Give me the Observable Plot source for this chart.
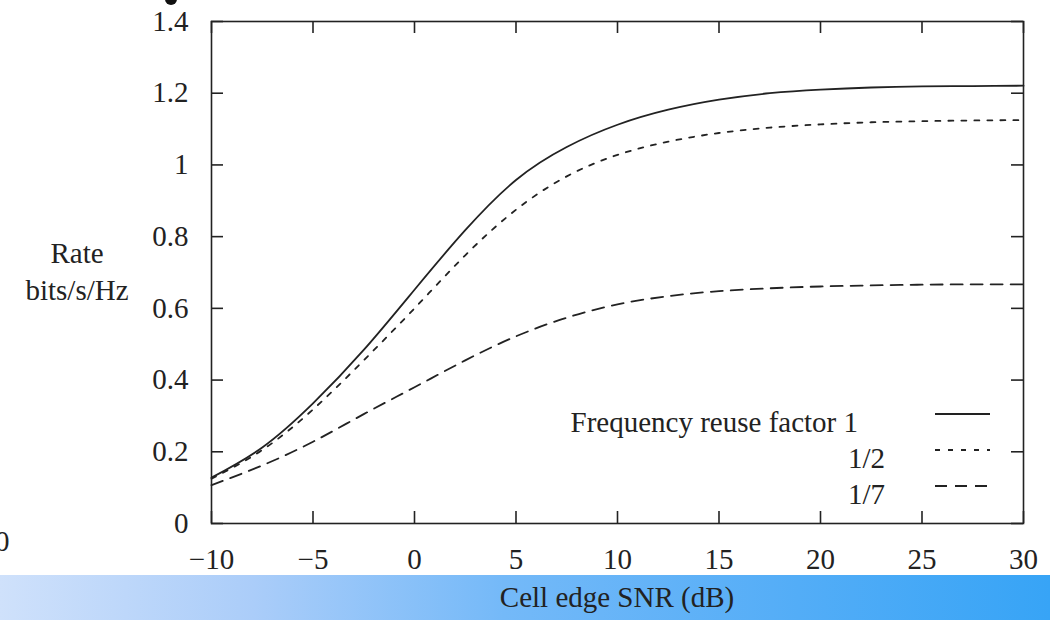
<!DOCTYPE html>
<html>
<head>
<meta charset="utf-8">
<script src="https://cdn.jsdelivr.net/npm/d3@7"></script>
<script src="https://cdn.jsdelivr.net/npm/@observablehq/plot@0.6"></script>
<style>
  html, body { margin: 0; padding: 0; background: #fff; }
  #page { position: relative; width: 1050px; height: 620px; overflow: hidden; background: #fff;
          font-family: "Liberation Serif", "DejaVu Serif", serif; color: #222; }
  #chart { position: absolute; left: 0; top: 0; }
  .abs { position: absolute; white-space: nowrap; font-size: 29px; line-height: 1; }
  #bar { position: absolute; left: 0; top: 575px; width: 1050px; height: 45px;
         background: linear-gradient(to right, #cfe1fb 0%, #abcdf9 24%, #74b9f8 48%, #53adf7 76%, #37a4f6 100%); }
  #blob { position: absolute; left: 165px; top: -7px; width: 12px; height: 12px; border-radius: 50%; background: #111; }
</style>
</head>
<body>
<div id="page">
  <div id="chart"></div>
  <div id="bar"></div>
  <div id="blob"></div>
  <div class="abs" id="xtitle" style="left:0; width:1234px; top:583px; text-align:center;"></div>
  <div class="abs" id="ytitle1" style="left:25px; width:104px; top:239px; text-align:center;"></div>
  <div class="abs" id="ytitle2" style="left:25px; width:104px; top:276px; text-align:center;"></div>
  <div class="abs" style="left:-5px; top:527px;">0</div>
  <svg id="legend" width="1050" height="575" style="position:absolute;left:0;top:0;pointer-events:none"></svg>
</div>
<script>
// ---- data ----
const snr = [-10, -7.5, -5, -2.5, 0, 2.5, 5, 7.5, 10, 12.5, 15, 17.5, 20, 22.5, 25, 27.5, 30];
const reuse1    = [0.128, 0.212, 0.335, 0.484, 0.652, 0.818, 0.958, 1.050, 1.112, 1.154, 1.182, 1.200, 1.210, 1.216, 1.219, 1.220, 1.221];
const reuseHalf = [0.125, 0.205, 0.318, 0.455, 0.600, 0.748, 0.875, 0.968, 1.028, 1.065, 1.089, 1.104, 1.113, 1.119, 1.122, 1.124, 1.125];
const reuse7    = [0.107, 0.162, 0.228, 0.305, 0.380, 0.455, 0.522, 0.574, 0.611, 0.634, 0.648, 0.656, 0.661, 0.664, 0.666, 0.667, 0.667];
const seriesNames = ["Frequency reuse factor 1", "1/2", "1/7"];
const xTicks = [-10, -5, 0, 5, 10, 15, 20, 25, 30];
const yTicks = [0, 0.2, 0.4, 0.6, 0.8, 1, 1.2, 1.4];
const xTitle = "Cell edge SNR (dB)";
const yTitle = ["Rate", "bits/s/Hz"];

const seriesValues = [reuse1, reuseHalf, reuse7];
const dashes = [null, "5,8", "12,8"];
const rows = seriesNames.flatMap((name, i) => snr.map((s, j) => ({series: name, snr: s, rate: seriesValues[i][j]})));

const ink = "#222";
const fmtX = d => d < 0 ? "\u2212" + (-d) : String(d);

const chart = Plot.plot({
  width: 1050,
  height: 575,
  marginTop: 21,
  marginBottom: 52,
  marginLeft: 211,
  marginRight: 27,
  x: {domain: [-10, 30]},
  y: {domain: [0, 1.4]},
  style: {fontFamily: "'Liberation Serif', serif", fontSize: "29px", color: ink, background: "transparent", overflow: "visible"},
  marks: [
    Plot.frame({stroke: ink, strokeWidth: 1.6}),
    Plot.axisX(xTicks, {tickSize: 0, tickPadding: 25, fontSize: 29, tickFormat: fmtX, label: null}),
    Plot.axisY(yTicks, {tickSize: 0, tickPadding: 23, fontSize: 29, tickFormat: d => String(d), label: null}),
    Plot.tickX(xTicks, {x: d => d, insetTop: 490, stroke: ink, strokeWidth: 1.6}),
    Plot.tickX(xTicks, {x: d => d, insetBottom: 490, stroke: ink, strokeWidth: 1.6}),
    Plot.tickY(yTicks, {y: d => d, insetRight: 800, stroke: ink, strokeWidth: 1.6}),
    Plot.tickY(yTicks, {y: d => d, insetLeft: 800, stroke: ink, strokeWidth: 1.6}),
    ...seriesNames.map((name, i) => Plot.line(rows.filter(r => r.series === name), {
      x: "snr", y: "rate", stroke: ink, strokeWidth: 1.8, curve: "natural",
      strokeDasharray: dashes[i]
    }))
  ]
});
document.getElementById("chart").appendChild(chart);

document.getElementById("xtitle").textContent = xTitle;
document.getElementById("ytitle1").textContent = yTitle[0];
document.getElementById("ytitle2").textContent = yTitle[1];

// ---- legend (key inside plot area) ----
const legend = d3.select("#legend");
const legendRight = [858, 885, 885];
seriesNames.forEach((name, i) => {
  const yKey = 414 + i * 36;
  legend.append("text")
    .attr("x", legendRight[i]).attr("y", yKey + 18)
    .attr("text-anchor", "end")
    .attr("font-family", "'Liberation Serif', serif")
    .attr("font-size", 29).attr("fill", ink)
    .text(name);
  legend.append("line")
    .attr("x1", 935).attr("x2", 990).attr("y1", yKey).attr("y2", yKey)
    .attr("stroke", ink).attr("stroke-width", 1.8)
    .attr("stroke-dasharray", dashes[i]);
});
</script>
</body>
</html>
